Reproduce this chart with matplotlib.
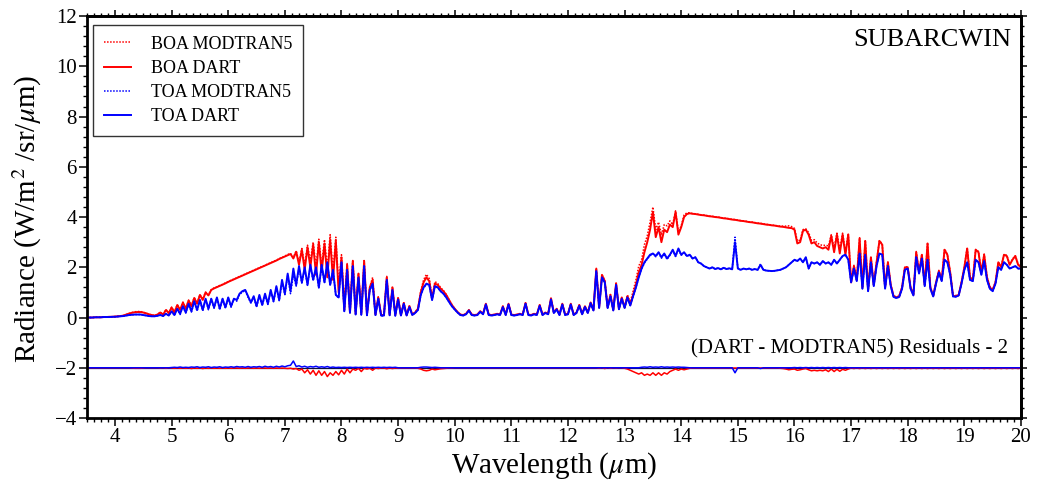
import numpy as np
import matplotlib
matplotlib.use('Agg')
import matplotlib.pyplot as plt
from matplotlib.ticker import MultipleLocator

plt.rcParams['font.family'] = ['Liberation Serif', 'DejaVu Serif']
plt.rcParams['mathtext.fontset'] = 'stix'

# wavelength grid (micrometres), 0.05 um step from 3.5 to 20.0
wl = np.round(3.5 + 0.05 * np.arange(331), 2)

# BOA radiance, DART (one sub-list per micrometre)
boa_dart = (
    [0.0, 0.0, 0.0, 0.01, 0.01, 0.01, 0.02, 0.02, 0.03, 0.03] +
    [0.04, 0.05, 0.06, 0.08, 0.12, 0.16, 0.19, 0.21, 0.22, 0.22, 0.2, 0.17, 0.13, 0.1, 0.08, 0.12, 0.2, 0.12, 0.3, 0.18] +
    [0.4, 0.2, 0.5, 0.3, 0.6, 0.35, 0.68, 0.45, 0.78, 0.55, 0.9, 0.7, 1.0, 0.88, 1.1, 1.16, 1.21, 1.26, 1.31, 1.36] +
    [1.42, 1.47, 1.52, 1.57, 1.62, 1.67, 1.72, 1.77, 1.82, 1.87, 1.92, 1.97, 2.02, 2.07, 2.12, 2.17, 2.22, 2.27, 2.33, 2.38] +
    [2.43, 2.48, 2.53, 2.35, 2.62, 2.1, 2.7, 1.9, 2.8, 2.0, 2.9, 1.7, 3.0, 1.8, 2.95, 1.6, 3.1, 1.5, 3.05, 1.0] +
    [2.4, 0.3, 2.1, 0.2, 2.25, 0.15, 1.75, 0.15, 2.25, 0.12, 1.2, 1.5, 0.12, 0.8, 0.1, 0.1, 1.6, 0.12, 1.2, 0.1] +
    [0.78, 0.1, 0.58, 0.1, 0.46, 0.12, 0.2, 0.35, 1.0, 1.4, 1.6, 1.45, 0.75, 1.35, 1.3, 1.15, 1.05, 0.9, 0.7, 0.5] +
    [0.35, 0.22, 0.12, 0.1, 0.15, 0.3, 0.12, 0.1, 0.12, 0.25, 0.15, 0.55, 0.12, 0.1, 0.12, 0.15, 0.12, 0.45, 0.12, 0.55] +
    [0.12, 0.1, 0.12, 0.15, 0.12, 0.58, 0.12, 0.1, 0.15, 0.12, 0.5, 0.12, 0.2, 0.15, 0.77, 0.2, 0.35, 0.12, 0.55, 0.12] +
    [0.15, 0.55, 0.12, 0.2, 0.5, 0.15, 0.45, 0.2, 0.6, 0.3, 1.95, 0.4, 1.7, 1.45, 0.4, 0.9, 0.3, 1.36, 0.35, 0.8] +
    [0.4, 0.85, 0.5, 0.9, 1.3, 1.8, 2.1, 2.6, 3.0, 3.5, 4.2, 3.2, 3.6, 3.0, 3.5, 3.4, 3.7, 3.6, 4.2, 3.3] +
    [3.6, 4.0, 4.12, 4.15, 4.13, 4.12, 4.1, 4.08, 4.07, 4.05, 4.03, 4.02, 4.0, 3.99, 3.97, 3.95, 3.94, 3.92, 3.9, 3.89] +
    [3.87, 3.85, 3.84, 3.82, 3.8, 3.79, 3.77, 3.75, 3.74, 3.72, 3.7, 3.69, 3.67, 3.66, 3.64, 3.62, 3.61, 3.59, 3.57, 3.56] +
    [3.5, 2.95, 3.0, 3.45, 3.5, 3.3, 2.95, 3.0, 2.85, 2.8, 2.75, 2.8, 2.7, 3.25, 2.6, 3.3, 2.55, 3.3, 2.5, 3.3] +
    [1.4, 2.05, 1.5, 3.15, 1.2, 3.05, 1.1, 2.4, 1.3, 2.2, 3.05, 2.9, 1.2, 2.2, 1.3, 0.85, 0.8, 0.85, 1.2, 2.0] +
    [2.0, 1.2, 0.9, 2.6, 1.8, 2.5, 1.3, 2.95, 1.2, 0.86, 1.4, 1.85, 1.5, 2.7, 2.5, 1.8, 0.86, 0.85, 0.9, 1.4] +
    [2.0, 2.75, 1.6, 1.5, 2.7, 2.6, 1.8, 2.5, 1.6, 1.2, 1.1, 1.4, 2.2, 2.0, 2.5, 2.45, 2.1, 2.3, 2.45, 2.1] +
    [2.0]
)

# TOA radiance, DART
toa_dart = (
    [0.0, 0.0, 0.0, 0.01, 0.01, 0.01, 0.02, 0.02, 0.02, 0.03] +
    [0.03, 0.04, 0.05, 0.06, 0.08, 0.1, 0.11, 0.12, 0.12, 0.12, 0.1, 0.08, 0.06, 0.05, 0.05, 0.07, 0.1, 0.06, 0.15, 0.08] +
    [0.25, 0.1, 0.35, 0.15, 0.45, 0.2, 0.55, 0.25, 0.65, 0.3, 0.7, 0.3, 0.75, 0.35, 0.75, 0.4, 0.8, 0.35, 0.75, 0.4] +
    [0.8, 0.45, 0.75, 0.7, 0.95, 1.05, 1.1, 0.85, 0.6, 0.85, 0.45, 0.9, 0.5, 0.95, 0.55, 1.1, 0.65, 1.25, 0.7, 1.5] +
    [0.95, 1.75, 1.05, 1.95, 1.3, 2.05, 1.4, 2.0, 1.3, 2.1, 1.5, 2.0, 1.2, 2.1, 1.4, 2.2, 1.3, 1.9, 0.9, 0.8] +
    [2.2, 0.25, 1.9, 0.2, 2.05, 0.12, 1.6, 0.12, 2.05, 0.1, 1.1, 1.35, 0.1, 0.75, 0.08, 0.08, 1.5, 0.1, 1.1, 0.08] +
    [0.72, 0.08, 0.55, 0.08, 0.42, 0.1, 0.18, 0.3, 0.9, 1.2, 1.35, 1.3, 0.7, 1.25, 1.2, 1.05, 0.95, 0.8, 0.62, 0.45] +
    [0.32, 0.2, 0.1, 0.08, 0.13, 0.28, 0.1, 0.08, 0.1, 0.23, 0.13, 0.52, 0.1, 0.08, 0.1, 0.13, 0.1, 0.42, 0.1, 0.52] +
    [0.1, 0.08, 0.1, 0.13, 0.1, 0.55, 0.1, 0.08, 0.13, 0.1, 0.47, 0.1, 0.18, 0.13, 0.72, 0.18, 0.32, 0.1, 0.52, 0.1] +
    [0.13, 0.52, 0.1, 0.18, 0.47, 0.13, 0.42, 0.18, 0.57, 0.28, 1.85, 0.38, 1.6, 1.4, 0.38, 0.85, 0.28, 1.3, 0.33, 0.75] +
    [0.38, 0.8, 0.48, 0.85, 1.2, 1.6, 1.95, 2.2, 2.35, 2.5, 2.55, 2.45, 2.6, 2.4, 2.55, 2.35, 2.5, 2.7, 2.45, 2.75] +
    [2.5, 2.6, 2.45, 2.5, 2.35, 2.4, 2.2, 2.15, 2.05, 2.0, 1.95, 2.0, 1.93, 1.97, 1.92, 1.98, 1.93, 1.96, 1.92, 3.0] +
    [1.95, 1.9, 1.95, 1.92, 1.95, 1.9, 1.93, 1.9, 2.1, 1.9, 1.87, 1.86, 1.85, 1.86, 1.88, 1.9, 1.95, 2.0, 2.1, 2.2] +
    [2.3, 2.25, 2.35, 2.2, 2.4, 1.95, 2.2, 2.15, 2.2, 2.1, 2.25, 2.15, 2.2, 2.1, 2.3, 2.15, 2.3, 2.45, 2.5, 2.3] +
    [1.4, 1.95, 1.45, 2.55, 1.15, 2.5, 1.05, 2.2, 1.25, 2.05, 2.55, 2.5, 1.15, 2.05, 1.25, 0.82, 0.78, 0.82, 1.15, 1.9] +
    [1.95, 1.15, 0.88, 2.4, 1.75, 2.35, 1.25, 2.3, 1.15, 0.84, 1.35, 1.8, 1.45, 2.3, 2.2, 1.7, 0.84, 0.83, 0.88, 1.35] +
    [1.9, 2.2, 1.5, 1.45, 2.3, 2.2, 1.7, 2.25, 1.5, 1.15, 1.05, 1.35, 2.0, 1.9, 2.2, 2.1, 1.95, 2.0, 2.05, 1.95] +
    [1.95]
)

# DART minus MODTRAN5 differences, BOA
boa_diff = (
    [0.0] * 10 +
    [0, 0, 0, 0, 0, 0, -0.01, -0.02, -0.02, -0.02, -0.01, 0, 0, 0, 0, 0, -0.01, 0, -0.02, 0] +
    [-0.01, -0.02, -0.01, -0.02, -0.01, -0.02, -0.01, -0.03, -0.01, -0.02, -0.01, -0.03, -0.01, -0.02, -0.01, -0.02, -0.01, -0.02, -0.01, -0.02] +
    [-0.01, -0.02, -0.01, -0.01, -0.02, -0.01, -0.02, -0.01, -0.01, -0.02, -0.01, -0.02, -0.01, -0.01, -0.02, -0.01, -0.02, -0.01, -0.02, -0.01] +
    [-0.02, -0.03, -0.02, -0.05, -0.03, -0.1, -0.05, -0.2, -0.08, -0.25, -0.1, -0.3, -0.12, -0.3, -0.15, -0.35, -0.2, -0.3, -0.15, -0.28] +
    [-0.1, -0.25, -0.05, -0.2, -0.05, -0.1, -0.02, -0.15, -0.02, -0.05, -0.02, -0.1, -0.01, -0.03, -0.01, -0.01, -0.04, -0.01, -0.03, -0.01] +
    [-0.02, -0.01, -0.01, -0.01, -0.01, -0.01, -0.01, -0.02, -0.05, -0.1, -0.12, -0.1, -0.05, -0.08, -0.06, -0.04, -0.03, -0.02, -0.01, -0.01] +
    [0.0] * 50 +
    [0, -0.02, 0, -0.03, 0, -0.02, 0, -0.01, 0, 0] +
    [-0.02, -0.05, -0.1, -0.15, -0.2, -0.25, -0.2, -0.3, -0.25, -0.3, -0.2, -0.3, -0.2, -0.3, -0.2, -0.25, -0.15, -0.1, -0.05, -0.1] +
    [-0.05, -0.08, -0.05, -0.02] + [-0.01] * 16 +
    [-0.01] * 15 + [-0.02, -0.03, -0.05, -0.08, -0.06] +
    [-0.05, -0.1, -0.08, -0.05, -0.03, -0.08, -0.12, -0.1, -0.12, -0.1, -0.12, -0.08, -0.15, -0.05, -0.15, -0.06, -0.14, -0.06, -0.1, -0.05] +
    [-0.01, -0.03] * 30 +
    [0.0]
)

# DART minus MODTRAN5 differences, TOA
toa_diff = (
    [0.0] * 10 +
    [0.0] * 20 +
    [0.01, 0.02, 0.01, 0.03, 0.01, 0.02, 0.01, 0.03, 0.02, 0.04, 0.01, 0.03, 0.02, 0.04, 0.01, 0.03, 0.02, 0.04, 0.01, 0.03] +
    [0.02, 0.04, 0.02, 0.05, 0.03, 0.04, 0.02, 0.05, 0.02, 0.04, 0.03, 0.05, 0.02, 0.06, 0.03, 0.05, 0.02, 0.06, 0.03, 0.07] +
    [0.04, 0.08, 0.1, 0.27, 0.05, 0.08, 0.03, 0.06, 0.02, 0.05, 0.03, 0.06, 0.02, 0.04, 0.02, 0.05, 0.01, 0.03, 0.01, 0.02] +
    [0.01, 0.02] * 10 +
    [0.0] * 8 + [0.02, 0.03, 0.03, 0.02, 0.01, 0.02, 0.01, 0.0, 0.0, 0.0, 0.0, 0.0] +
    [0.0] * 60 +
    [0.0] * 6 + [0.02, 0.03, 0.02, 0.04, 0.02, 0.03, 0.02, 0.04, 0.02, 0.03, 0.02, 0.03, 0.02, 0.03] +
    [0.02, 0.02, 0.01] + [0.0] * 16 + [-0.2] +
    [0.0] * 8 + [-0.03] + [0.0] * 11 +
    [0.01, 0.0] * 10 +
    [0.0] * 60 +
    [0.0]
)

residual_offset = -2.0
labels = ['BOA MODTRAN5', 'BOA DART', 'TOA MODTRAN5', 'TOA DART']

boa_dart = np.array(boa_dart)
toa_dart = np.array(toa_dart)
boa_diff = np.array(boa_diff, dtype=float)
toa_diff = np.array(toa_diff, dtype=float)
boa_mod = boa_dart - boa_diff
toa_mod = toa_dart - toa_diff

fig = plt.figure(figsize=(10.38, 4.88), dpi=100)
ax = fig.add_axes([0.0835, 0.1434, 0.9001, 0.8236])

ax.plot(wl, boa_mod, color='red', ls=(0, (1, 1)), lw=1.1, label=labels[0])
ax.plot(wl, boa_dart, color='red', lw=1.4, label=labels[1])
ax.plot(wl, toa_mod, color='blue', ls=(0, (1, 1)), lw=1.1, label=labels[2])
ax.plot(wl, toa_dart, color='blue', lw=1.4, label=labels[3])

ax.axhline(residual_offset, color='#101040', lw=0.9)
ax.plot(wl, boa_diff + residual_offset, color='red', lw=1.1)
ax.plot(wl, toa_diff + residual_offset, color='blue', lw=1.1)

ax.set_xlim(3.5, 20)
ax.set_ylim(-4, 12)
ax.xaxis.set_major_locator(MultipleLocator(1))
ax.xaxis.set_minor_locator(MultipleLocator(0.125))
ax.yaxis.set_major_locator(MultipleLocator(2))
ax.yaxis.set_minor_locator(MultipleLocator(0.4))
ax.tick_params(which='major', direction='out', length=6, width=1.1, labelsize=15, pad=1)
ax.tick_params(which='minor', direction='out', length=3, width=1.0)
for s in ax.spines.values():
    s.set_linewidth(2)

secx = ax.secondary_xaxis('top')
secx.xaxis.set_major_locator(MultipleLocator(1))
secx.xaxis.set_minor_locator(MultipleLocator(0.125))
secx.tick_params(which='major', direction='out', length=4, width=1.1, labeltop=False)
secx.tick_params(which='minor', direction='out', length=2.5, width=1.0)
secx.spines['top'].set_linewidth(2)
secy = ax.secondary_yaxis('right')
secy.yaxis.set_major_locator(MultipleLocator(2))
secy.yaxis.set_minor_locator(MultipleLocator(0.4))
secy.tick_params(which='major', direction='out', length=4, width=1.1, labelright=False)
secy.tick_params(which='minor', direction='out', length=2.5, width=1.0)
secy.spines['right'].set_linewidth(2)

fig.text(554 / 1038, 1 - 466 / 488, r'Wavelength ($\mu$m)', ha='center', va='center', fontsize=21)
fig.text(27 / 1038, 1 - 219 / 488, r'Radiance (W/m$^2$ /sr/$\mu$m)', ha='center', va='center',
         rotation=90, fontsize=21)

ax.text(0.990, 0.940, 'SUBARCWIN', transform=ax.transAxes, ha='right', va='center', fontsize=19)
ax.text(0.986, 0.172, '(DART - MODTRAN5) Residuals - 2', transform=ax.transAxes,
        ha='right', va='center', fontsize=15)

leg = ax.legend(loc='upper left', bbox_to_anchor=(0.0067, 0.978), borderaxespad=0,
                fontsize=13, frameon=True, fancybox=False, edgecolor='black',
                handlelength=1.5, handletextpad=1.1, labelspacing=0.4, borderpad=0.6)
leg.get_frame().set_linewidth(1.0)

fig.savefig('out.png', dpi=100)
